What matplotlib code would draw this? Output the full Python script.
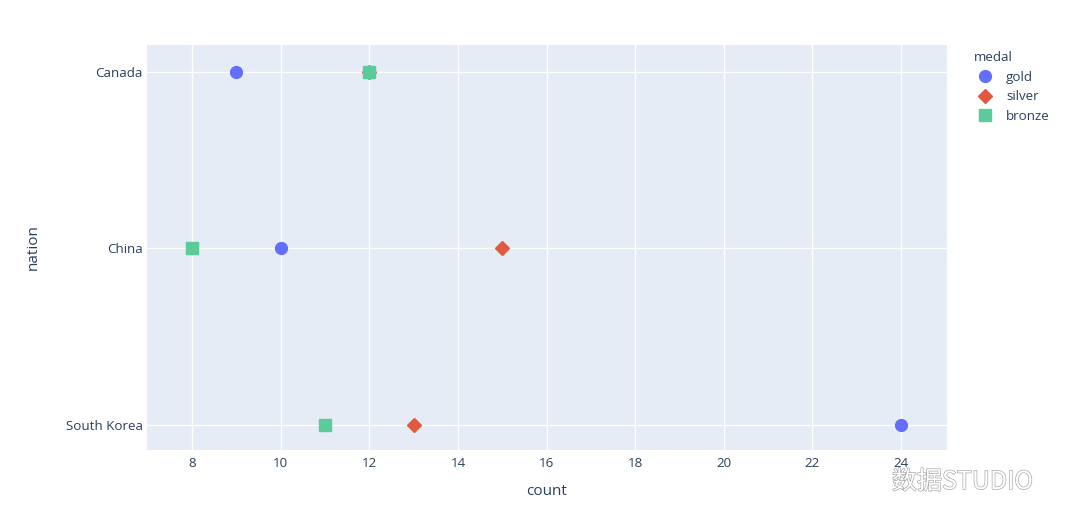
import matplotlib.pyplot as plt
import matplotlib.patheffects as pe

plt.rcParams['font.family'] = ['Open Sans', 'DejaVu Sans']

# medal counts per nation
nations = ["South Korea", "China", "Canada"]
medals = ["gold", "silver", "bronze"]
gold = [24, 10, 9]
silver = [13, 15, 12]
bronze = [11, 8, 12]
x_ticks = [8, 10, 12, 14, 16, 18, 20, 22, 24]

colors = {"gold": "#636EFA", "silver": "#DE5B40", "bronze": "#5BCB99"}
shapes = {"gold": "o", "silver": "D", "bronze": "s"}
sizes = {"gold": 8.5, "silver": 7.5, "bronze": 8}
text_col = "#2a3f5f"

fig = plt.figure(figsize=(10.8, 5.25), dpi=100)
ax = fig.add_axes([147 / 1080, 75 / 525, 800 / 1080, 405 / 525])
ax.set_facecolor("#E5ECF6")

ypos = list(range(len(nations)))
for name, vals in zip(medals, [gold, silver, bronze]):
    ax.plot(vals, ypos, linestyle="none", marker=shapes[name],
            markersize=sizes[name], color=colors[name], label=name, zorder=3)

ax.set_xlim(6.98, 25.04)
ax.set_ylim(-0.14, 2.15)
ax.set_xticks(x_ticks)
ax.set_yticks(ypos)
ax.set_yticklabels(nations)
ax.grid(True, color="white", linewidth=1)
ax.set_axisbelow(True)
for s in ax.spines.values():
    s.set_visible(False)
ax.tick_params(length=0, labelsize=9.6, labelcolor=text_col)
ax.tick_params(axis="y", pad=3)
ax.tick_params(axis="x", pad=5)
ax.set_xlabel("count", fontsize=11, color=text_col, labelpad=10)
ax.set_ylabel("nation", fontsize=11, color=text_col, labelpad=18)

leg = fig.legend(loc="upper left", bbox_to_anchor=(962 / 1080, 1 - 39 / 525),
                 frameon=False, title="medal", fontsize=9.6,
                 title_fontsize=9.6, handlelength=1.6, handletextpad=0.8,
                 labelspacing=0.5)
leg._legend_box.align = "left"
leg.get_title().set_color(text_col)
for t in leg.get_texts():
    t.set_color(text_col)

# watermark
wm = fig.text(892 / 1080, 1 - 482 / 525, "数据STUDIO", fontsize=18, color="white",
              family=["Noto Sans CJK SC", "DejaVu Sans"], va="center", ha="left")
wm.set_path_effects([pe.withStroke(linewidth=0.9, foreground="#a0a0a0")])

fig.savefig("out.png", dpi=100, facecolor="white")
